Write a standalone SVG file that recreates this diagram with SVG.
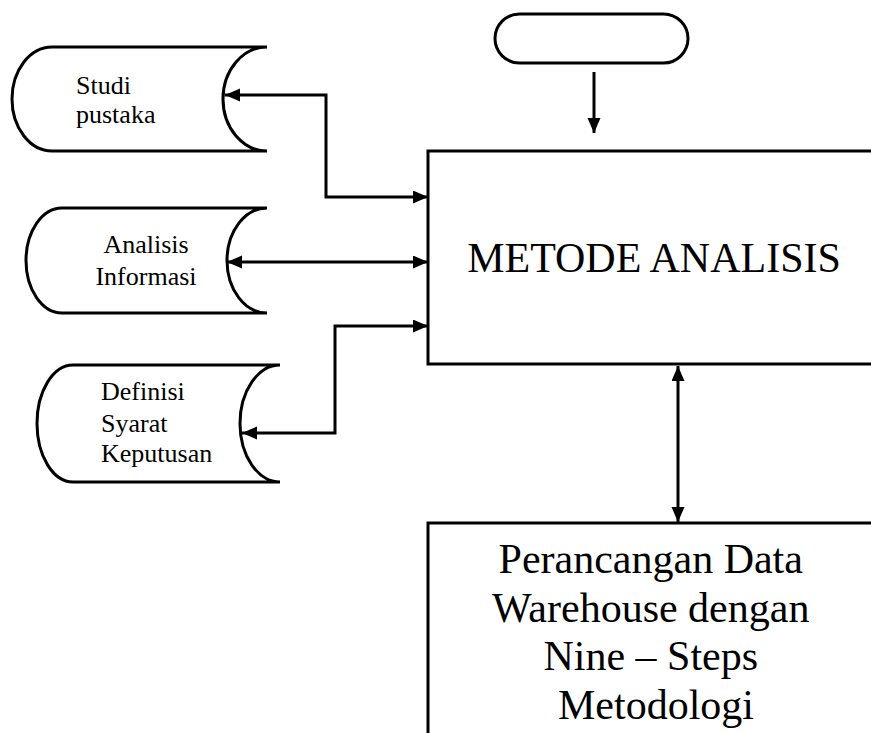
<svg xmlns="http://www.w3.org/2000/svg" width="871" height="733" viewBox="0 0 871 733">
<style>
.shape{fill:#fff;stroke:#000;stroke-width:3}
.conn{fill:none;stroke:#000;stroke-width:3}
.small{font-family:"Liberation Serif","Times New Roman",serif;font-size:26px;fill:#000}
.big{font-family:"Liberation Serif","Times New Roman",serif;font-size:42px;fill:#000}
</style>
<defs>
<marker id="ah" markerUnits="userSpaceOnUse" markerWidth="16" markerHeight="14" refX="15" refY="6.5" orient="auto-start-reverse">
<path d="M0,0 L15,6.5 L0,13 Z" fill="#000"/>
</marker>
</defs>
<rect width="871" height="733" fill="#fff"/>
<g id="start">
<rect class="shape" x="495" y="14" width="193" height="49" rx="24.5" ry="24.5"/>
</g>
<g id="metode">
<rect class="shape" x="428" y="151" width="460" height="213"/>
<text class="big" x="654" y="272" text-anchor="middle">METODE ANALISIS</text>
</g>
<g id="perancangan">
<rect class="shape" x="428" y="523" width="460" height="230"/>
<text class="big" text-anchor="middle">
<tspan x="656" y="573">Perancangan Data</tspan>
<tspan x="656" y="621.5">Warehouse dengan</tspan>
<tspan x="656" y="670">Nine – Steps</tspan>
<tspan x="656" y="718.5">Metodologi</tspan>
</text>
</g>
<g id="studi">
<path class="shape" d="M267 47 L52 47 A40 52 0 0 0 52 151 L267 151 A44 52 0 0 1 267 47 Z"/>
<text class="small"><tspan x="76" y="94">Studi</tspan><tspan x="76" y="123">pustaka</tspan></text>
</g>
<g id="analisis">
<path class="shape" d="M267 208 L62 208 A36 52.5 0 0 0 62 313 L267 313 A40 52.5 0 0 1 267 208 Z"/>
<text class="small" text-anchor="middle"><tspan x="146" y="253">Analisis</tspan><tspan x="146" y="285">Informasi</tspan></text>
</g>
<g id="definisi">
<path class="shape" d="M280 365 L73 365 A36 58.5 0 0 0 73 482 L280 482 A40 58.5 0 0 1 280 365 Z"/>
<text class="small"><tspan x="101" y="400">Definisi</tspan><tspan x="101" y="431.5">Syarat</tspan><tspan x="101" y="462">Keputusan</tspan></text>
</g>
<g id="connectors">
<path class="conn" d="M594 72 L594 133" stroke-width="2.5" marker-end="url(#ah)"/>
<path class="conn" d="M225 95 L326 95 L326 197 L428 197" marker-start="url(#ah)" marker-end="url(#ah)"/>
<path class="conn" d="M227 262 L428 262" marker-start="url(#ah)" marker-end="url(#ah)"/>
<path class="conn" d="M242 433 L335 433 L335 326 L428 326" marker-start="url(#ah)" marker-end="url(#ah)"/>
<path class="conn" d="M678 366 L678 522" marker-start="url(#ah)" marker-end="url(#ah)"/>
</g>
</svg>
